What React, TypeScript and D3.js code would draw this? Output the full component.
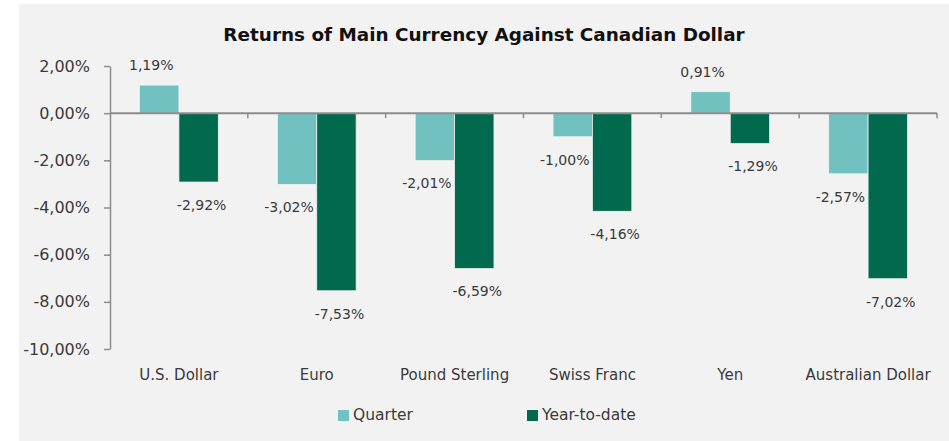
import * as d3 from "d3";
import { useEffect, useRef } from "react";
import * as React from "react";

const categories = ["U.S. Dollar", "Euro", "Pound Sterling", "Swiss Franc", "Yen", "Australian Dollar"];
const seriesNames = ["Quarter", "Year-to-date"];
const quarter = [1.19, -3.02, -2.01, -1.0, 0.91, -2.57];
const yearToDate = [-2.92, -7.53, -6.59, -4.16, -1.29, -7.02];
const yTicks = [2, 0, -2, -4, -6, -8, -10];

const colors = ["#71c1c1", "#016a4e"];
const font = "'DejaVu Sans', sans-serif";
const fmt = (v: number) => v.toFixed(2).replace(".", ",") + "%";

const App: React.FC = () => {
  const ref = useRef<SVGSVGElement | null>(null);

  useEffect(() => {
    const width = 949;
    const height = 441;
    const margin = { top: 66, right: 12, bottom: 92, left: 110 };

    const svg = d3.select(ref.current);
    svg.selectAll("*").remove();

    // chart background
    svg
      .append("rect")
      .attr("x", 19)
      .attr("y", 4)
      .attr("width", width - 19)
      .attr("height", height - 4)
      .attr("fill", "#f2f2f2");

    svg
      .append("text")
      .attr("x", 484)
      .attr("y", 41)
      .attr("text-anchor", "middle")
      .attr("font-family", font)
      .attr("font-size", 18.4)
      .attr("font-weight", 700)
      .attr("fill", "#111")
      .text("Returns of Main Currency Against Canadian Dollar");

    const x = d3
      .scaleBand()
      .domain(categories)
      .range([margin.left, 937])
      .paddingInner(0)
      .paddingOuter(0);

    // Excel gap width 75%
    const groupW = x.bandwidth() / 1.75;
    const xs = d3
      .scaleBand()
      .domain(seriesNames)
      .range([0, groupW]);

    const y = d3.scaleLinear().domain([-10, 2]).range([height - margin.bottom, margin.top]);

    // Y axis
    const yAxis = svg
      .append("g")
      .attr("transform", `translate(${margin.left},0)`)
      .call(
        d3
          .axisLeft(y)
          .tickValues(yTicks)
          .tickSize(6)
          .tickSizeOuter(0)
          .tickPadding(14)
          .tickFormat((d) => fmt(d as number))
      );
    yAxis.select(".domain").attr("stroke", "#8c8c8c").attr("stroke-width", 1.5);
    yAxis.selectAll(".tick line").attr("stroke", "#8c8c8c").attr("stroke-width", 1.5);
    yAxis
      .selectAll(".tick text")
      .attr("font-family", font)
      .attr("font-size", 16)
      .attr("fill", "#3a3a3a");

    const series = [quarter, yearToDate];

    // Bars
    series.forEach((vals, si) => {
      svg
        .append("g")
        .selectAll("rect")
        .data(vals)
        .enter()
        .append("rect")
        .attr("x", (_, i) => (x(categories[i]) as number) + (x.bandwidth() - groupW) / 2 + (xs(seriesNames[si]) as number))
        .attr("y", (d) => y(Math.max(0, d)))
        .attr("width", xs.bandwidth())
        .attr("height", (d) => Math.abs(y(d) - y(0)))
        .attr("fill", colors[si])
        .attr("stroke", "#f2f2f2")
        .attr("stroke-width", 0.75);
    });

    // zero line with category ticks at band edges
    svg
      .append("line")
      .attr("x1", margin.left)
      .attr("x2", x.range()[1])
      .attr("y1", y(0))
      .attr("y2", y(0))
      .attr("stroke", "#8c8c8c")
      .attr("stroke-width", 2);
    svg
      .append("g")
      .selectAll("line")
      .data(categories.slice(1).map((c) => x(c) as number).concat([x.range()[1]]))
      .enter()
      .append("line")
      .attr("x1", (d) => d)
      .attr("x2", (d) => d)
      .attr("y1", y(0))
      .attr("y2", y(0) + 5)
      .attr("stroke", "#8c8c8c")
      .attr("stroke-width", 1.5);

    // Data labels
    const labelShift = [-8, 3];
    series.forEach((vals, si) => {
      svg
        .append("g")
        .selectAll("text")
        .data(vals)
        .enter()
        .append("text")
        .attr(
          "x",
          (_, i) =>
            (x(categories[i]) as number) +
            (x.bandwidth() - groupW) / 2 +
            (xs(seriesNames[si]) as number) +
            xs.bandwidth() / 2 +
            labelShift[si]
        )
        .attr("y", (d) => (d >= 0 ? y(d) - 20 : y(d) + 23))
        .attr("dy", "0.35em")
        .attr("text-anchor", "middle")
        .attr("font-family", font)
        .attr("font-size", 14)
        .attr("fill", "#3a3a3a")
        .text((d) => fmt(d));
    });

    // Category labels
    svg
      .append("g")
      .selectAll("text")
      .data(categories)
      .enter()
      .append("text")
      .attr("x", (d) => (x(d) as number) + x.bandwidth() / 2)
      .attr("y", 375)
      .attr("dy", "0.35em")
      .attr("text-anchor", "middle")
      .attr("font-family", font)
      .attr("font-size", 15)
      .attr("fill", "#3a3a3a")
      .text((d) => d);

    // Legend
    const legendX = [338, 527];
    seriesNames.forEach((name, si) => {
      svg
        .append("rect")
        .attr("x", legendX[si])
        .attr("y", 410)
        .attr("width", 11)
        .attr("height", 11)
        .attr("fill", colors[si]);
      svg
        .append("text")
        .attr("x", legendX[si] + 15)
        .attr("y", 415)
        .attr("dy", "0.35em")
        .attr("font-family", font)
        .attr("font-size", 15.5)
        .attr("fill", "#3a3a3a")
        .text(name);
    });
  }, []);

  return (
    <svg
      ref={ref}
      width={949}
      height={441}
      style={{ position: "absolute", left: 0, top: 0, background: "#fff" }}
    />
  );
};

export default App;
